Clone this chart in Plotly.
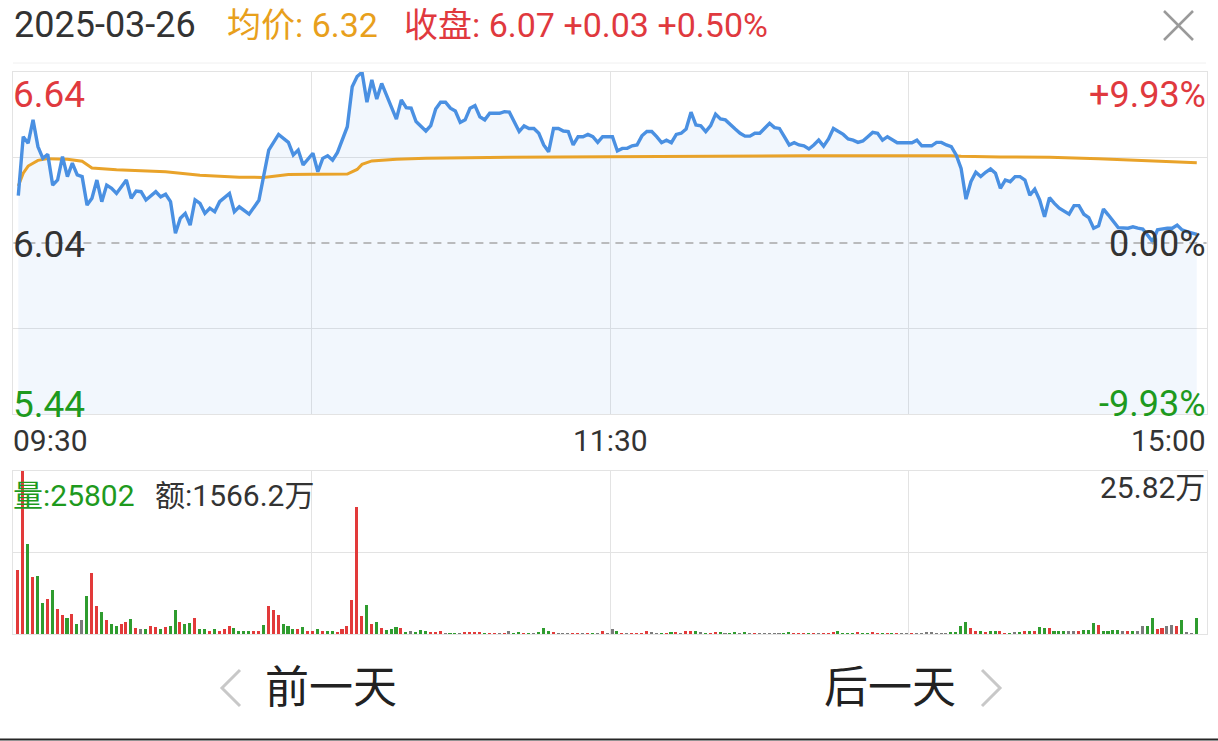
import plotly.graph_objects as go

W, H = 1218, 741

# ---------------- data ----------------
prev_close = 6.04
price_top = 6.64
price_bottom = 5.44
vol_max = 258200
time_labels = ["09:30", "11:30", "15:00"]

price_idx = [0, 1, 2, 3, 4, 5, 6, 7, 8, 9, 10, 11, 12, 13, 14, 15, 16, 17, 18, 19, 20, 22, 23, 24, 25, 26,
             28, 29, 30, 31, 32, 33, 34, 35, 36, 37, 38, 39, 40, 41, 43, 44, 45, 47, 49, 51, 53, 55, 56, 57,
             58, 60, 61, 62, 63, 64, 65, 67, 68, 69, 70, 71, 72, 73, 74, 75, 77, 78, 79, 80, 81, 83, 84, 85,
             86, 87, 88, 89, 90, 91, 92, 93, 94, 95, 96, 98, 99, 100, 102, 103, 104, 105, 106, 107, 108, 109,
             110, 111, 112, 113, 114, 115, 116, 117, 118, 119, 120, 121, 122, 123, 124, 125, 126, 127, 128,
             129, 130, 131, 132, 133, 134, 135, 136, 137, 138, 139, 140, 141, 142, 143, 144, 145, 146, 147,
             148, 149, 150, 151, 153, 154, 155, 156, 157, 158, 159, 160, 161, 162, 163, 164, 165, 166, 167,
             168, 169, 170, 171, 172, 173, 174, 175, 176, 177, 178, 179, 182, 183, 184, 186, 187, 188, 189,
             190, 191, 192, 193, 194, 195, 196, 197, 198, 199, 200, 201, 202, 203, 204, 205, 206, 207, 208,
             209, 210, 211, 212, 214, 215, 216, 217, 218, 219, 220, 221, 222, 223, 224, 226, 227, 228, 229,
             231, 232, 234, 235, 236, 237, 238, 240]
price_val = [6.206, 6.413, 6.39, 6.472, 6.378, 6.337, 6.351, 6.243, 6.261, 6.343, 6.273, 6.32, 6.279, 6.273,
             6.173, 6.197, 6.261, 6.185, 6.243, 6.232, 6.214, 6.261, 6.197, 6.222, 6.22, 6.191,
             6.22, 6.202, 6.211, 6.185, 6.074, 6.127, 6.144, 6.103, 6.191, 6.179, 6.144, 6.162, 6.15, 6.185,
             6.214, 6.15, 6.167, 6.141, 6.19, 6.366, 6.421, 6.393, 6.349, 6.366,
             6.314, 6.355, 6.29, 6.337, 6.346, 6.331, 6.358, 6.448, 6.588, 6.624, 6.639, 6.534, 6.612, 6.545,
             6.6, 6.559, 6.475, 6.542, 6.515, 6.513, 6.466, 6.433, 6.452, 6.51,
             6.534, 6.534, 6.513, 6.503, 6.463, 6.472, 6.513, 6.522, 6.483, 6.472, 6.495, 6.495, 6.501, 6.499,
             6.431, 6.451, 6.442, 6.442, 6.425, 6.384, 6.36, 6.442,
             6.442, 6.433, 6.431, 6.384, 6.413, 6.413, 6.421, 6.413, 6.393, 6.413, 6.413, 6.413, 6.363, 6.372,
             6.372, 6.381, 6.384, 6.416, 6.431,
             6.431, 6.413, 6.392, 6.401, 6.392, 6.421, 6.425, 6.44, 6.499, 6.454, 6.451, 6.431, 6.452, 6.492,
             6.475, 6.472, 6.454, 6.44, 6.425,
             6.415, 6.415, 6.425, 6.425, 6.46, 6.445, 6.442, 6.413, 6.384, 6.392, 6.384, 6.381, 6.37, 6.384,
             6.401, 6.38, 6.405, 6.442, 6.433,
             6.421, 6.405, 6.401, 6.393, 6.398, 6.413, 6.428, 6.425, 6.401, 6.413, 6.401, 6.392, 6.392, 6.401,
             6.381, 6.381, 6.393, 6.393, 6.384,
             6.378, 6.349, 6.302, 6.194, 6.255, 6.288, 6.273, 6.288, 6.3, 6.285, 6.232, 6.261, 6.255, 6.273,
             6.273, 6.261, 6.208, 6.229, 6.191,
             6.132, 6.199, 6.179, 6.162, 6.141, 6.171, 6.171, 6.141, 6.129, 6.092, 6.10, 6.159, 6.138, 6.117,
             6.094, 6.092, 6.097, 6.092, 6.089,
             6.045, 6.086, 6.092, 6.092, 6.103, 6.086, 6.08, 6.07]

avg_idx = [0, 1, 2, 4, 6, 10, 13, 15, 20, 30, 37, 45, 50, 53, 55, 60, 67, 69, 70, 72, 77, 83, 90, 100,
           120, 134, 160, 190, 192, 200, 210, 220, 230, 240]
avg_val = [6.24, 6.285, 6.31, 6.33, 6.336, 6.334, 6.327, 6.303, 6.297, 6.29, 6.278, 6.271, 6.270, 6.276,
           6.280, 6.281, 6.282, 6.298, 6.316, 6.328, 6.334, 6.337, 6.339, 6.341,
           6.343, 6.345, 6.346, 6.346, 6.344, 6.342, 6.341, 6.336, 6.330, 6.322]

volume = [
    100900, 258200, 143300, 90300, 92500, 49600, 54800, 69100, 39400, 29900,
    25100, 31500, 15100, 22600, 59600, 96600, 43700, 35300, 22600, 15100,
    13000, 15100, 18300, 23000, 9900, 7200, 8400, 12400, 10700, 7700,
    11000, 12400, 38500, 18300, 16200, 16800, 24600, 8000, 7700, 5100,
    8000, 4600, 8400, 12400, 9000, 5100, 5500, 5100, 4000, 4600,
    14700, 44200, 37300, 29900, 15100, 13000, 7200, 8000, 11000, 5500,
    4000, 8000, 4500, 4500, 4500, 2500, 8000, 12000, 53200, 200500,
    27800, 45300, 15100, 18700, 10000, 7000, 8000, 11000, 9900, 2900,
    4000, 3300, 6000, 5500, 3500, 3000, 4500, 1500, 1500, 1200,
    1200, 3500, 2800, 3500, 2000, 1200, 1200, 1200, 1200, 1200,
    5000, 1500, 2800, 1500, 1500, 1500, 2000, 9900, 5500, 2800,
    1200, 1200, 1200, 1200, 1200, 1200, 1200, 1200, 1200, 5000,
    1200, 8300, 5500, 1200, 1200, 1200, 1200, 1500, 4000, 2800,
    1200, 1200, 1200, 3300, 3500, 1200, 4000, 5000, 5500, 2800,
    1200, 1500, 3300, 2800, 1200, 1200, 2000, 1200, 2000, 1200,
    1200, 1200, 1200, 1200, 1200, 1200, 1500, 2800, 1500, 1200,
    1200, 1200, 1500, 1200, 1200, 1500, 2800, 5000, 1500, 1200,
    1500, 2000, 1200, 1500, 1800, 1500, 1200, 1500, 1200, 1500,
    1200, 1200, 1500, 1500, 1200, 2800, 3500, 1500, 1500, 1500,
    2000, 3300, 12400, 19000, 10000, 5500, 4000, 2500, 5000, 4500,
    5500, 1500, 1200, 2000, 2000, 4000, 5500, 5000, 11000, 10000,
    10000, 5000, 5000, 5000, 4500, 4000, 5500, 6500, 6000, 16700,
    14000, 5000, 4500, 6500, 6500, 5000, 5500, 5000, 4000, 12000,
    12500, 24600, 8500, 9000, 12000, 13500, 13000, 22000, 2500, 800,
    25802]

# u = up (red), d = down (green), n = unchanged (grey); one string per 10 minutes
vol_dir_rows = [
    "uududdudu u".replace(" ", ""),
    "dudnduudud", "duudunduud", "uddudduddu", "duuudddduu", "duuudddudu",
    "ududduuuuu", "udududddud", "nddduuundd", "nuuuuduunu", "nddudndddu",
    "nnnuunudnu", "nndunuuuun", "ndudunuudn", "duudnddndn", "unnnnndduu",
    "udunuuuddd", "dudduududu", "nnunnnnnnn", "dddduududd", "uudndududd",
    "udddnnuddd", "uddddnudnn", "dduunnudnn", "d",
]
vol_dir = list("".join(vol_dir_rows))

# ---------------- figure ----------------
COL_UP, COL_DN, COL_FLAT = "#e23a3a", "#2f9c2f", "#7b7b7b"
COL_BLUE, COL_AVG = "#4a90e2", "#e9a32a"
FONT = "Roboto, 'Noto Sans CJK SC', sans-serif"

x_vol = list(range(len(volume)))
bar_colors = [{"u": COL_UP, "d": COL_DN}.get(d, COL_FLAT) for d in vol_dir[:len(volume)]]
while len(bar_colors) < len(volume):
    bar_colors.append(COL_FLAT)

fig = go.Figure()
fig.add_trace(go.Scatter(x=price_idx, y=price_val, mode="lines", line=dict(width=0, color=COL_BLUE),
                         fill="tozeroy", fillcolor="rgba(74,144,226,0.07)", hoverinfo="skip",
                         xaxis="x", yaxis="y"))
fig.add_trace(go.Scatter(x=avg_idx, y=avg_val, mode="lines", line=dict(width=3, color=COL_AVG),
                         xaxis="x", yaxis="y"))
fig.add_trace(go.Scatter(x=price_idx, y=price_val, mode="lines", line=dict(width=3.4, color=COL_BLUE),
                         xaxis="x", yaxis="y"))
fig.add_trace(go.Bar(x=x_vol, y=volume, marker=dict(color=bar_colors, line=dict(width=0)), width=0.62,
                     xaxis="x2", yaxis="y2"))

x_dom = [13.4 / W, 1206.6 / W]
x_range = [-1.0, 242.0]
quarter = (x_range[1] - x_range[0]) / 4
grid_x = [x_range[0] + quarter * k for k in (1, 2, 3)]
GRID = "#e3e3e3"

axis_common = dict(showline=True, linecolor=GRID, linewidth=1, mirror=True, zeroline=False,
                   showticklabels=False, ticks="", gridcolor=GRID, gridwidth=1)

fig.update_layout(
    width=W, height=H, margin=dict(l=0, r=0, t=0, b=0),
    paper_bgcolor="white", plot_bgcolor="rgba(0,0,0,0)", showlegend=False, bargap=0,
    font=dict(family=FONT),
    xaxis=dict(domain=x_dom, range=x_range, tickvals=grid_x, showgrid=True, **axis_common),
    yaxis=dict(domain=[1 - 414 / H, 1 - 72 / H], range=[price_bottom, price_top],
               tickvals=[price_bottom + 0.3, price_top - 0.3], showgrid=True, **axis_common),
    xaxis2=dict(domain=x_dom, range=x_range, tickvals=grid_x, showgrid=True, anchor="y2", **axis_common),
    yaxis2=dict(domain=[1 - 634 / H, 1 - 471 / H], range=[0, vol_max],
                tickvals=[vol_max / 2], showgrid=True, anchor="x2", **axis_common),
)

shapes = [
    dict(type="line", xref="paper", yref="y", x0=x_dom[0], x1=x_dom[1], y0=prev_close, y1=prev_close,
         line=dict(color="#a8a8a8", width=1.5, dash="8px,6px")),
    dict(type="line", xref="paper", yref="paper", x0=13 / W, x1=1206 / W, y0=1 - 63 / H, y1=1 - 63 / H,
         line=dict(color="#f0f0f0", width=1)),
    dict(type="line", xref="paper", yref="paper", x0=0, x1=1, y0=1 - 739.5 / H, y1=1 - 739.5 / H,
         line=dict(color="#262626", width=2)),
    # close "x"
    dict(type="line", xref="paper", yref="paper", x0=1164 / W, x1=1193 / W, y0=1 - 11 / H, y1=1 - 40 / H,
         line=dict(color="#9a9a9a", width=2.5)),
    dict(type="line", xref="paper", yref="paper", x0=1164 / W, x1=1193 / W, y0=1 - 40 / H, y1=1 - 11 / H,
         line=dict(color="#9a9a9a", width=2.5)),
    # chevrons
    dict(type="path", xref="paper", yref="paper",
         path=f"M {240 / W} {1 - 670 / H} L {222 / W} {1 - 688 / H} L {240 / W} {1 - 706 / H}",
         line=dict(color="#c8c8c8", width=3)),
    dict(type="path", xref="paper", yref="paper",
         path=f"M {982 / W} {1 - 670 / H} L {1000 / W} {1 - 688 / H} L {982 / W} {1 - 706 / H}",
         line=dict(color="#c8c8c8", width=3)),
]
fig.update_layout(shapes=shapes)


def txt(s, x, y, color, size, xanchor="left"):
    fig.add_annotation(text=s, x=x / W, y=1 - y / H, xref="paper", yref="paper", showarrow=False,
                       xanchor=xanchor, yanchor="middle", font=dict(color=color, size=size, family=FONT),
                       borderpad=0)


RED, GREEN, DARK, ORANGE = "#e0393e", "#1e9a1e", "#333333", "#e8a01c"
pct = (price_top - prev_close) / prev_close * 100

txt("2025-03-26", 13, 25, DARK, 36)
txt(f"均价: {avg_val[-1]:.2f}", 226, 25, ORANGE, 34)
txt(f"收盘: {price_val[-1]:.2f} +0.03 +0.50%", 403, 25, RED, 34)

txt(f"{price_top:.2f}", 12, 95, RED, 37)
txt(f"{prev_close:.2f}", 12, 244, DARK, 37)
txt(f"{price_bottom:.2f}", 12, 404, GREEN, 37)
txt(f"+{pct:.2f}%", 1207, 95, RED, 36, "right")
txt("0.00%", 1207, 244, DARK, 36, "right")
txt(f"-{pct:.2f}%", 1207, 404, GREEN, 36, "right")

txt(time_labels[0], 12, 440, DARK, 30)
txt(time_labels[1], 610, 440, DARK, 30, "center")
txt(time_labels[2], 1207, 440, DARK, 30, "right")

txt(f"量:{volume[-1]}", 12, 495, GREEN, 30)
txt("额:1566.2万", 154, 495, DARK, 30)
txt(f"{vol_max / 10000:.2f}万", 1206, 487, DARK, 30, "right")

txt("前一天", 264, 688, "#222222", 44)
txt("后一天", 957, 688, "#222222", 44, "right")

fig.write_html("out.html", config={"displayModeBar": False},
               post_script="document.body.style.margin='0';document.body.style.overflow='hidden';")
